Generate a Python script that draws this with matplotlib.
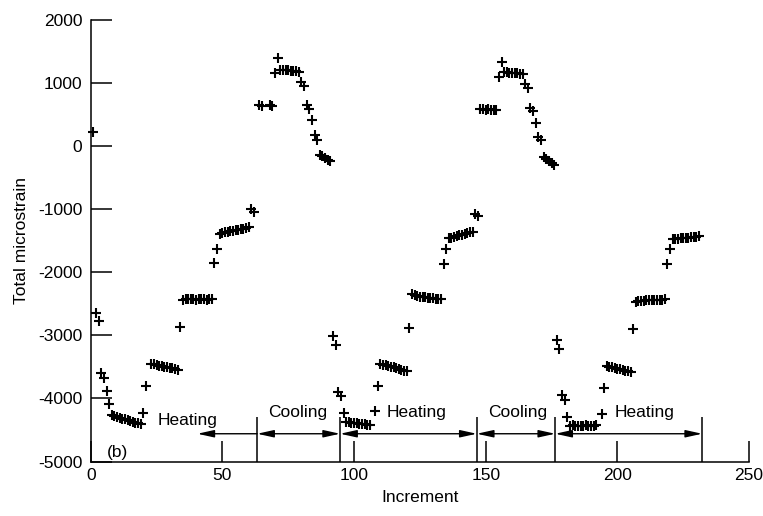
import matplotlib
matplotlib.use("Agg")
import matplotlib.pyplot as plt

plt.rcParams["font.family"] = ["Liberation Sans", "DejaVu Sans"]
plt.rcParams["axes.unicode_minus"] = False

# --- strain readings by phase ---
heat1_inc = [1, 2, 3, 4, 5, 6, 7,
             8, 9, 10, 11, 12, 13, 14, 15, 16, 17, 18, 19,
             20, 21,
             23, 24, 25, 26, 27, 28, 29, 30, 31, 32, 33,
             34,
             35, 36, 37, 38, 39, 40, 41, 42, 43, 44, 45, 46,
             47, 48,
             49, 50, 51, 52, 53, 54, 55, 56, 57, 58, 59, 60,
             61, 62]
heat1_strain = [220, -2640, -2770, -3600, -3680, -3890, -4090,
                -4270, -4285, -4290, -4305, -4320, -4330, -4345, -4355, -4370, -4385, -4395, -4410,
                -4230, -3800,
                -3455, -3460, -3470, -3480, -3490, -3495, -3505, -3515, -3525, -3535, -3545,
                -2865,
                -2440, -2425, -2420, -2430, -2425, -2435, -2430, -2420, -2430, -2435, -2425, -2430,
                -1850, -1630,
                -1395, -1380, -1370, -1365, -1350, -1345, -1335, -1330, -1320, -1310, -1300, -1290,
                -1000, -1040]

cool1_inc = [64, 65, 68, 69, 70, 71,
             72, 73, 74, 75, 76, 77, 78, 79,
             80, 81, 82, 83, 84, 85, 86,
             87, 88, 89, 90, 91]
cool1_strain = [650, 640, 645, 635, 1160, 1390,
                1210, 1205, 1200, 1200, 1195, 1190, 1185, 1180,
                1020, 950, 650, 580, 420, 175, 95,
                -140, -160, -190, -220, -245]

heat2_inc = [92, 93, 94, 95, 96,
             97, 98, 99, 100, 101, 102, 103, 104, 105, 106,
             108, 109,
             110, 111, 112, 113, 114, 115, 116, 117, 118, 119, 120,
             121,
             122, 123, 124, 125, 126, 127, 128, 129, 130, 131, 132, 133,
             134, 135,
             136, 137, 138, 139, 140, 141, 142, 143, 144, 145,
             146, 147]
heat2_strain = [-3010, -3150, -3900, -3960, -4230,
                -4370, -4375, -4385, -4390, -4395, -4400, -4405, -4410, -4415, -4420,
                -4205, -3800,
                -3455, -3465, -3475, -3490, -3500, -3510, -3520, -3535, -3545, -3560, -3570,
                -2890,
                -2345, -2360, -2375, -2385, -2395, -2400, -2405, -2410, -2415, -2420, -2425, -2430,
                -1870, -1640,
                -1460, -1450, -1440, -1430, -1415, -1405, -1395, -1380, -1370, -1355,
                -1080, -1110]

cool2_inc = [148, 149, 150, 151, 152, 153, 154,
             155, 156,
             157, 158, 159, 160, 161, 162, 163, 164,
             165, 166, 167, 168, 169, 170, 171,
             172, 173, 174, 175, 176]
cool2_strain = [585, 580, 575, 580, 575, 570, 575,
                1100, 1330,
                1175, 1170, 1165, 1160, 1155, 1150, 1145, 1140,
                980, 920, 610, 555, 370, 140, 100,
                -170, -200, -235, -265, -295]

heat3_inc = [177, 178, 179, 180, 181,
             182, 183, 184, 185, 186, 187, 188, 189, 190, 191, 192,
             194, 195,
             196, 197, 198, 199, 200, 201, 202, 203, 204, 205,
             206,
             207, 208, 209, 210, 211, 212, 213, 214, 215, 216, 217, 218,
             219, 220,
             221, 222, 223, 224, 225, 226, 227, 228, 229, 230, 231]
heat3_strain = [-3070, -3220, -3950, -4020, -4290,
                -4430, -4425, -4435, -4430, -4430, -4435, -4425, -4430, -4435, -4430, -4425,
                -4250, -3830,
                -3490, -3500, -3510, -3520, -3530, -3540, -3550, -3560, -3570, -3580,
                -2905,
                -2470, -2455, -2450, -2450, -2445, -2445, -2440, -2440, -2440, -2435, -2435, -2430,
                -1870, -1640,
                -1480, -1475, -1470, -1465, -1460, -1455, -1450, -1445, -1440, -1435, -1425]

# phase boundaries and labels along the bottom
phase_bounds = [63.2, 94.7, 146.6, 176.4, 232.2]
first_arrow_tip = 40.5
phase_labels = ["Heating", "Cooling", "Heating", "Cooling", "Heating"]
label_x = [36.8, 78.5, 123.8, 162.0, 210.5]
label_y = [-4420, -4290, -4300, -4290, -4290]

fig = plt.figure(figsize=(7.63, 5.16), dpi=100)
ax = fig.add_axes([0.1189, 0.1056, 0.8628, 0.856])

for inc, strain in [(heat1_inc, heat1_strain), (cool1_inc, cool1_strain),
                    (heat2_inc, heat2_strain), (cool2_inc, cool2_strain),
                    (heat3_inc, heat3_strain)]:
    ax.plot(inc, strain, linestyle="none", marker="+", color="black",
            markersize=7.5, markeredgewidth=1.5, clip_on=False)

ax.set_xlim(0, 250)
ax.set_ylim(-5000, 2000)
ax.set_xticks([0, 50, 100, 150, 200, 250])
ax.set_yticks([2000, 1000, 0, -1000, -2000, -3000, -4000, -5000])
ax.tick_params(direction="in", length=15, width=1.1, labelsize=12.5, pad=6)
ax.tick_params(axis="x", pad=5)
for side in ["top", "right"]:
    ax.spines[side].set_visible(False)
for side in ["left", "bottom"]:
    ax.spines[side].set_linewidth(1.1)

ax.set_xlabel("Increment", fontsize=12.5, labelpad=5)
ax.set_ylabel("Total microstrain", fontsize=12.5)
ax.yaxis.set_label_coords(-0.094, 0.5)

# phase markers: short verticals with arrows between them
ax.vlines(phase_bounds, -5000, -4300, color="black", linewidth=1.1)
arrow_y = -4560
style = dict(color="black", linewidth=1.0, shrinkA=0, shrinkB=0, mutation_scale=10)
ax.annotate("", xy=(first_arrow_tip, arrow_y), xytext=(phase_bounds[0], arrow_y),
            arrowprops=dict(arrowstyle="-|>,head_length=1.0,head_width=0.22", **style))
for a, b in zip(phase_bounds[:-1], phase_bounds[1:]):
    ax.annotate("", xy=(b, arrow_y), xytext=(a, arrow_y),
                arrowprops=dict(arrowstyle="<|-|>,head_length=1.0,head_width=0.22", **style))

for text, x, y in zip(phase_labels, label_x, label_y):
    ax.text(x, y, text, ha="center", va="baseline", fontsize=12.5)

ax.text(10.2, -4865, "(b)", ha="center", va="center", fontsize=12.5)

fig.savefig("out.png", dpi=100)
